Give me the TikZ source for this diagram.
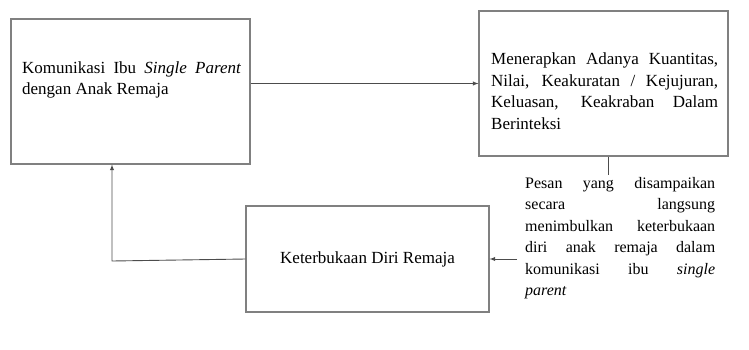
\documentclass[tikz,border=0pt]{standalone}
\usepackage{fontspec}
\setmainfont{Liberation Serif}
\usepackage{tikz}
\usetikzlibrary{positioning}

\tikzset{
    kotak/.style={draw=black!50, line width=1.1pt, inner sep=0pt},
    teks/.style={inner sep=0pt, align=justify, font=\fontsize{17}{21.5}\selectfont},
    catatan/.style={teks, font=\fontsize{16}{21.5}\selectfont},
    garis/.style={draw=black!70, line width=0.9pt},
    panah/.style={garis, -latex}
}

\begin{document}
\begin{tikzpicture}[x=1pt,y=-1pt]
    \useasboundingbox (0,0) rectangle (749,349);

    \coordinate (A1) at (130.5, 91.5);
    \coordinate (A2) at (603.5, 83.5);
    \coordinate (A3) at (367.5, 259);
    \coordinate (A4) at (112, 261);

    \node[kotak, minimum width=239pt, minimum height=145pt] (komunikasi) at (A1) {};
    \node[kotak, minimum width=249pt, minimum height=145pt] (menerapkan) at (A2) {};
    \node[kotak, minimum width=243pt, minimum height=106pt, teks] (keterbukaan) at (A3) {Keterbukaan Diri Remaja};

%labels
    \node[teks, text width=219pt, anchor=west] at (22, 80)
        {Komunikasi Ibu \textit{Single Parent}\linebreak dengan Anak Remaja};
    \node[teks, text width=227pt, anchor=west] at (491, 91)
        {Menerapkan Adanya Kuantitas,\linebreak Nilai, Keakuratan / Kejujuran,\linebreak Keluasan, Keakraban Dalam\linebreak Berinteksi};
    \node[catatan, text width=190pt, anchor=west, inner xsep=8pt, inner ysep=2pt] (pesan) at (517, 238)
        {Pesan yang disampaikan\linebreak secara langsung\linebreak menimbulkan keterbukaan\linebreak diri anak remaja dalam\linebreak komunikasi ibu \textit{single}\linebreak \textit{parent}};

%arrows
    \draw[panah] (komunikasi.east |- menerapkan.west) -- (menerapkan.west);
    \draw[garis] ([xshift=4.5pt]menerapkan.south) -- ([xshift=4.5pt]menerapkan.south |- pesan.north);
    \draw[panah] (pesan.west |- keterbukaan.east) -- (keterbukaan.east);
    \draw[panah] (keterbukaan.west) -- (A4) -- (A4 |- komunikasi.south);

\end{tikzpicture}
\end{document}
